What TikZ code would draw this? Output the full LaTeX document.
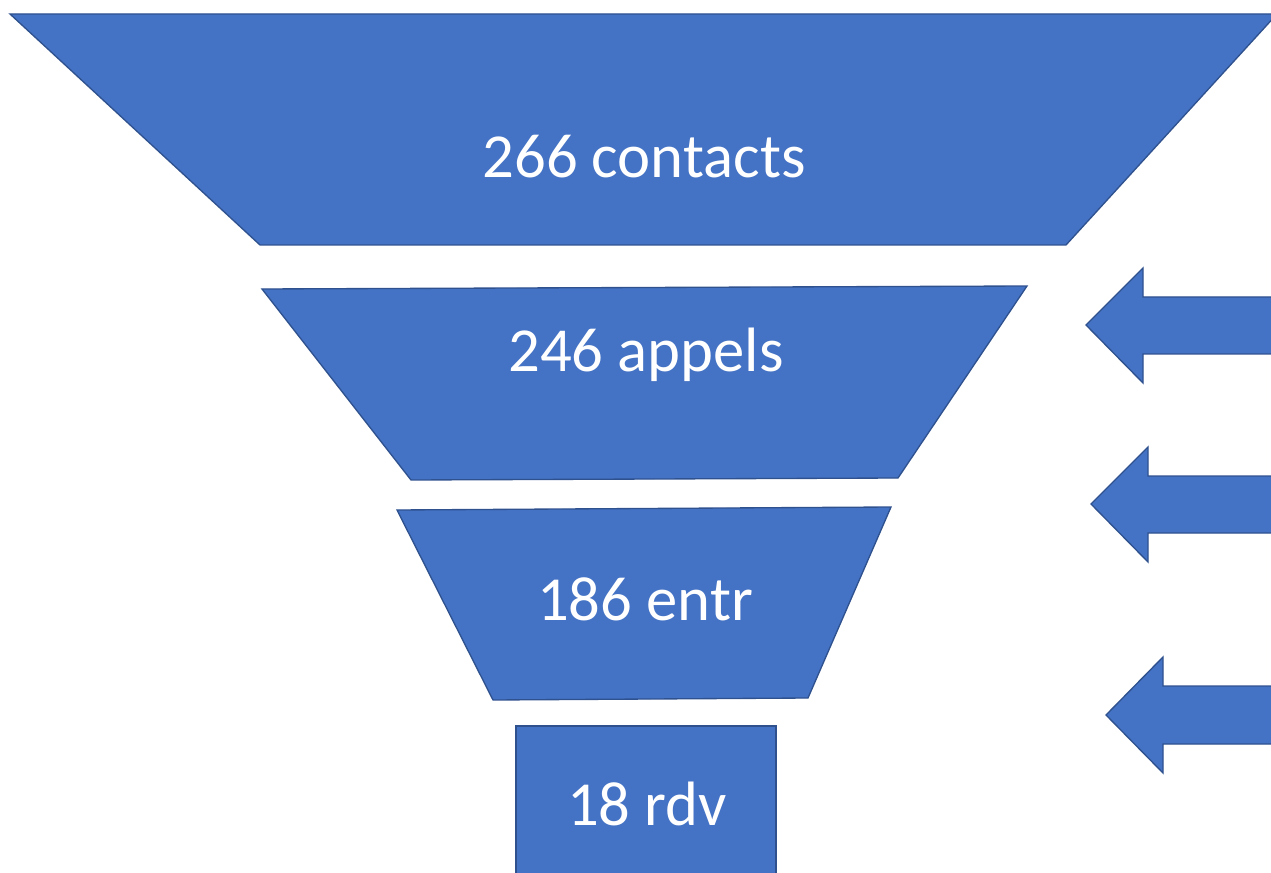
\documentclass[tikz,border=0pt]{standalone}
\usepackage{fontspec}
\setmainfont{Carlito}
\definecolor{fillblue}{HTML}{4472C4}
\definecolor{edgeblue}{HTML}{2F528F}
\tikzset{
  stage/.style={fill=fillblue, draw=edgeblue, line width=1pt, line join=miter},
  label/.style={text=white, font=\fontsize{47}{56}\selectfont, anchor=base, inner sep=0pt},
}
\begin{document}
\begin{tikzpicture}[x=0.75pt, y=-0.75pt]
\useasboundingbox (0,0) rectangle (1271,873);
\clip (0,0) rectangle (1271,873);
% funnel stages
\path[stage] (10,14) -- (1277,14) -- (1066,245) -- (260,245) -- cycle;
\path[stage] (262,289) -- (1027,286) -- (898,478) -- (411,480) -- cycle;
\path[stage] (397,510) -- (891,507) -- (808,698) -- (493,700) -- cycle;
\path[stage] (516,726) rectangle (776,890);
% block arrows
\path[stage] (1086,325) -- (1143,268) -- (1143,297) -- (1290,297) -- (1290,354) -- (1143,354) -- (1143,383) -- cycle;
\path[stage] (1091,504) -- (1148,447) -- (1148,476) -- (1290,476) -- (1290,533) -- (1148,533) -- (1148,562) -- cycle;
\path[stage] (1106,715) -- (1163,657) -- (1163,686) -- (1290,686) -- (1290,744) -- (1163,744) -- (1163,773) -- cycle;
% labels
\node[label] (contacts) at (644,178) {266 contacts};
\node[label] (appels) at (646,372) {246 appels};
\node[label] (entr) at (645,620) {186 entr};
\node[label] (rdv) at (647,825) {18 rdv};
\end{tikzpicture}
\end{document}
